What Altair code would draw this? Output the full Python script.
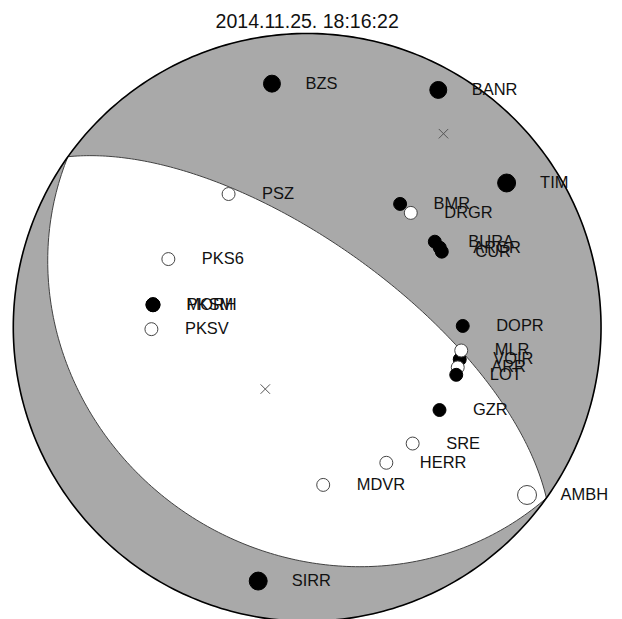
import math
import numpy as np
import pandas as pd
import altair as alt

TITLE = "2014.11.25. 18:16:22"

names = ["BZS", "BANR", "TIM", "PSZ", "BMR", "DRGR", "BURA", "ARGR", "CUR",
         "PKS6", "MORH", "PKSM", "PKSV", "DOPR", "VOIR", "MLR", "ARR", "LOT",
         "GZR", "SRE", "HERR", "MDVR", "AMBH", "SIRR"]
xs = [-0.1198, 0.4462, 0.6787, -0.2674, 0.3163, 0.3526, 0.4344, 0.4513, 0.4581,
      -0.4723, -0.5246, -0.5246, -0.5300, 0.5294, 0.5192, 0.5243, 0.5124, 0.5073,
      0.4503, 0.3590, 0.2694, 0.0546, 0.7482, -0.1666]
ys = [0.8293, 0.8079, 0.4913, 0.4537, 0.4201, 0.3895, 0.2915, 0.2711, 0.2576,
      0.2324, 0.0770, 0.0770, -0.0061, 0.0048, -0.1089, -0.0787, -0.1361, -0.1615,
      -0.2813, -0.3953, -0.4608, -0.5361, -0.5704, -0.8633]
polarity = ["c", "c", "c", "d", "c", "d", "c", "c", "c",
            "d", "c", "c", "d", "c", "c", "d", "d", "c",
            "c", "d", "d", "d", "d", "c"]
radius_px = [9, 9, 9.5, 7, 7, 7, 7, 7, 7,
             7, 7.5, 7.5, 7, 7, 7, 7, 7, 7,
             7, 7, 7, 7, 10, 9.5]

# ---- focal mechanism: nodal planes (strike, dip) and P/T axes
plane_strike = [305.5, 125.5]
plane_dip = [66.4, 25.5]
axis_label = ["T", "P"]
axis_x = [0.4639, -0.1425]
axis_y = [0.6590, -0.2100]

R_PX = 294.7


def schmidt_plane(strike, dip, n=181):
    s = math.radians(strike)
    d = math.radians(dip)
    sv = np.array([math.cos(s), math.sin(s), 0.0])
    dd = s + math.pi / 2
    dv = np.array([math.cos(d) * math.cos(dd), math.cos(d) * math.sin(dd), math.sin(d)])
    out = []
    for th in np.linspace(0, math.pi, n):
        v = math.cos(th) * sv + math.sin(th) * dv
        p = math.asin(max(-1.0, min(1.0, v[2])))
        t = math.atan2(v[1], v[0])
        r = math.sqrt(2) * math.sin((math.pi / 2 - p) / 2)
        out.append((r * math.sin(t), r * math.cos(t)))
    return out


circ = [(math.cos(a), math.sin(a)) for a in np.linspace(0, 2 * math.pi, 361)]
circle_df = pd.DataFrame({"x": [c[0] for c in circ], "y": [c[1] for c in circ],
                          "o": list(range(len(circ)))})

p1 = schmidt_plane(plane_strike[0], plane_dip[0])
p2 = schmidt_plane(plane_strike[1], plane_dip[1])
lens = p1 + p2 + [p1[0]]
lens_df = pd.DataFrame({"x": [p[0] for p in lens], "y": [p[1] for p in lens],
                        "o": list(range(len(lens)))})

st = pd.DataFrame({"name": names, "x": xs, "y": ys, "pol": polarity,
                   "size": [(2 * r - 1) ** 2 for r in radius_px],
                   "o": list(range(len(names)))})
ax_df = pd.DataFrame({"name": axis_label, "x": axis_x, "y": axis_y})

xsc = alt.Scale(domain=[-1, 1], nice=False, zero=False)
ysc = alt.Scale(domain=[-1, 1], nice=False, zero=False)
X = alt.X("x:Q", scale=xsc, axis=None)
Y = alt.Y("y:Q", scale=ysc, axis=None)

disk = alt.Chart(circle_df).mark_line(fill="#a9a9a9", stroke="#a9a9a9", strokeWidth=0.5).encode(
    x=X, y=Y, order="o:Q")
white = alt.Chart(lens_df).mark_line(fill="white", stroke="#404040", strokeWidth=1).encode(
    x=X, y=Y, order="o:Q")
outline = alt.Chart(circle_df).mark_line(stroke="black", strokeWidth=1.6).encode(
    x=X, y=Y, order="o:Q")
axes = alt.Chart(ax_df).mark_point(shape="M-1,-1L1,1M-1,1L1,-1", size=90, filled=False,
                                   stroke="#555555", strokeWidth=1, opacity=1).encode(x=X, y=Y)
pts = alt.Chart(st).mark_point(shape="circle", filled=True, strokeWidth=1, opacity=1).encode(
    x=X, y=Y,
    fill=alt.Fill("pol:N", scale=alt.Scale(domain=["c", "d"], range=["black", "white"]), legend=None),
    stroke=alt.Stroke("pol:N", scale=alt.Scale(domain=["c", "d"], range=["black", "#444444"]), legend=None),
    size=alt.Size("size:Q", scale=None),
    order="o:Q")
labels = alt.Chart(st).mark_text(align="left", baseline="middle", dx=33.6, fontSize=16.5,
                                 font="Liberation Sans", color="#111111").encode(
    x=X, y=Y, text="name:N")

chart = alt.layer(disk, white, outline, axes, pts, labels).properties(
    width=2 * R_PX, height=2 * R_PX,
    padding={"left": 5.3, "top": 24.7, "right": 13, "bottom": 0},
    autosize=alt.AutoSizeParams(type="none"),
    title=alt.TitleParams(TITLE, fontSize=19.6, font="Liberation Sans", fontWeight="normal",
                          color="#111111", anchor="middle", baseline="bottom", offset=-21,
                          frame="group"),
    background="white",
).configure_view(stroke=None)

chart.save("out.html", embed_options={"renderer": "svg", "actions": False})
